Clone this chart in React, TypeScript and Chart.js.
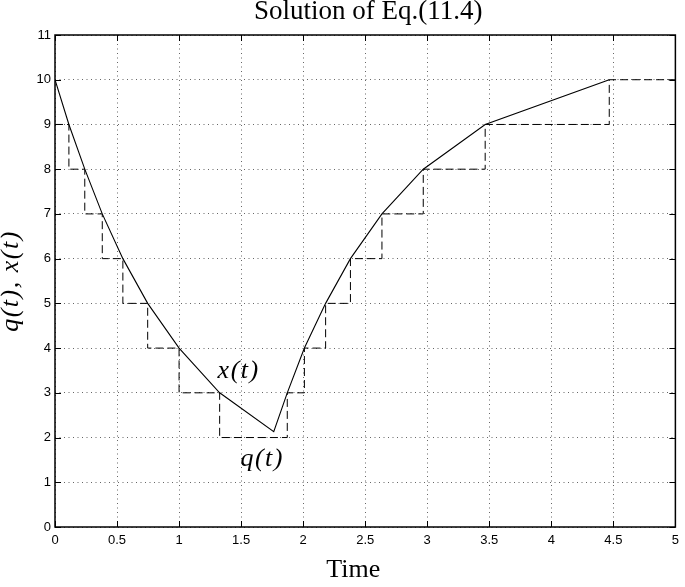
import React, { useEffect, useRef } from 'react';
import { Chart, registerables } from 'chart.js';

Chart.register(...registerables);

// x(t): continuous state (solid line)
const xTimes = [0, 0.112, 0.24, 0.381, 0.547, 0.747, 1.0, 1.327, 1.763, 1.872, 2.01, 2.181, 2.381, 2.635, 2.968, 3.467, 4.467];
const xValues = [10, 9, 8, 7, 6, 5, 4, 3, 2.13, 3, 4, 5, 6, 7, 8, 9, 10];

// q(t): quantized state (dashed step line)
const qTimes = [0, 0.112, 0.24, 0.381, 0.547, 0.747, 1.0, 1.327, 1.872, 2.01, 2.181, 2.381, 2.635, 2.968, 3.467, 4.467, 5];
const qValues = [9, 8, 7, 6, 5, 4, 3, 2, 3, 4, 5, 6, 7, 8, 9, 10, 10];

const xTickLabels = ['0', '0.5', '1', '1.5', '2', '2.5', '3', '3.5', '4', '4.5', '5'];
const yTickLabels = ['0', '1', '2', '3', '4', '5', '6', '7', '8', '9', '10', '11'];

const titleText = 'Solution of Eq.(11.4)';
const xAxisTitle = 'Time';
const yAxisTitle = 'q(t), x(t)';

const annotationTexts = ['x(t)', 'q(t)'];
const annotationTimes = [1.48, 1.67];
const annotationValues = [3.33, 1.36];

const decorPlugin = {
  id: 'decor',
  afterDraw(chart: any) {
    const { ctx, chartArea: a, scales } = chart;
    const xs = scales.x;
    const ys = scales.y;
    ctx.save();
    // inward tick marks
    ctx.strokeStyle = '#000';
    ctx.lineWidth = 1;
    ctx.beginPath();
    xs.ticks.forEach((t: any) => {
      const px = Math.round(xs.getPixelForValue(t.value)) + 0.5;
      ctx.moveTo(px, a.bottom);
      ctx.lineTo(px, a.bottom - 6);
      ctx.moveTo(px, a.top);
      ctx.lineTo(px, a.top + 6);
    });
    ys.ticks.forEach((t: any) => {
      const py = Math.round(ys.getPixelForValue(t.value)) + 0.5;
      ctx.moveTo(a.left, py);
      ctx.lineTo(a.left + 6, py);
      ctx.moveTo(a.right, py);
      ctx.lineTo(a.right - 6, py);
    });
    ctx.stroke();
    // box
    ctx.lineWidth = 1.5;
    ctx.strokeRect(a.left, a.top, a.right - a.left, a.bottom - a.top);

    const cx = (a.left + a.right) / 2;
    const cy = (a.top + a.bottom) / 2;
    ctx.fillStyle = '#000';
    ctx.textAlign = 'center';
    ctx.textBaseline = 'alphabetic';
    // title
    ctx.font = '27px "Liberation Serif", serif';
    ctx.fillText(titleText, cx + 3, 19);
    // x axis title
    ctx.font = '26px "Liberation Serif", serif';
    ctx.fillText(xAxisTitle, cx - 12, 577);
    // y axis title
    ctx.save();
    ctx.translate(18, cy);
    ctx.rotate(-Math.PI / 2);
    ctx.font = 'italic 26px "Liberation Serif", serif';
    (ctx as any).letterSpacing = '1.5px';
    ctx.fillText(yAxisTitle, 0, 0);
    ctx.restore();
    // annotations
    ctx.font = 'italic 26px "Liberation Serif", serif';
    (ctx as any).letterSpacing = '1.5px';
    annotationTexts.forEach((txt, i) => {
      const px = xs.getPixelForValue(annotationTimes[i]);
      const py = ys.getPixelForValue(annotationValues[i]);
      ctx.fillText(txt, px, py);
    });
    ctx.restore();
  },
};

export default function App() {
  const canvasRef = useRef<HTMLCanvasElement | null>(null);

  useEffect(() => {
    const canvas = canvasRef.current;
    if (!canvas) return;
    const gridColor = 'rgba(0,0,0,0.6)';
    const chart = new Chart(canvas, {
      type: 'line',
      data: {
        datasets: [
          {
            label: 'x(t)',
            data: xTimes.map((t, i) => ({ x: t, y: xValues[i] })),
            borderColor: '#000',
            borderWidth: 1.1,
            pointRadius: 0,
            fill: false,
            tension: 0,
          },
          {
            label: 'q(t)',
            data: qTimes.map((t, i) => ({ x: t, y: qValues[i] })),
            borderColor: '#000',
            borderWidth: 1,
            borderDash: [8, 4],
            pointRadius: 0,
            fill: false,
            stepped: true,
          },
        ],
      },
      options: {
        responsive: false,
        animation: false,
        events: [],
        layout: { padding: { top: 35, right: 4, left: 0, bottom: 0 } },
        plugins: {
          legend: { display: false },
          tooltip: { enabled: false },
          title: { display: false },
        },
        scales: {
          x: {
            type: 'linear',
            min: 0,
            max: 5,
            ticks: {
              stepSize: 0.5,
              autoSkip: false,
              maxRotation: 0,
              color: '#000',
              padding: 6,
              font: { family: '"Liberation Sans", Arial, sans-serif', size: 13 },
              callback: (_v: any, i: number) => xTickLabels[i],
            },
            grid: { display: true, drawTicks: false, color: gridColor, lineWidth: 1 },
            border: { display: false, dash: [1, 3.5] },
            afterFit: (s: any) => {
              s.height = 60;
            },
          },
          y: {
            type: 'linear',
            min: 0,
            max: 11,
            ticks: {
              stepSize: 1,
              autoSkip: false,
              color: '#000',
              padding: 4,
              font: { family: '"Liberation Sans", Arial, sans-serif', size: 13 },
              callback: (_v: any, i: number) => yTickLabels[i],
            },
            grid: { display: true, drawTicks: false, color: gridColor, lineWidth: 1 },
            border: { display: false, dash: [1, 3.5] },
            afterFit: (s: any) => {
              s.width = 55;
            },
          },
        },
      },
      plugins: [decorPlugin],
    });
    return () => chart.destroy();
  }, []);

  return (
    <div style={{ position: 'fixed', left: 0, top: 0, width: 685, height: 587, background: '#fff' }}>
      <canvas ref={canvasRef} width={685} height={587} style={{ width: 685, height: 587, display: 'block' }} />
    </div>
  );
}
